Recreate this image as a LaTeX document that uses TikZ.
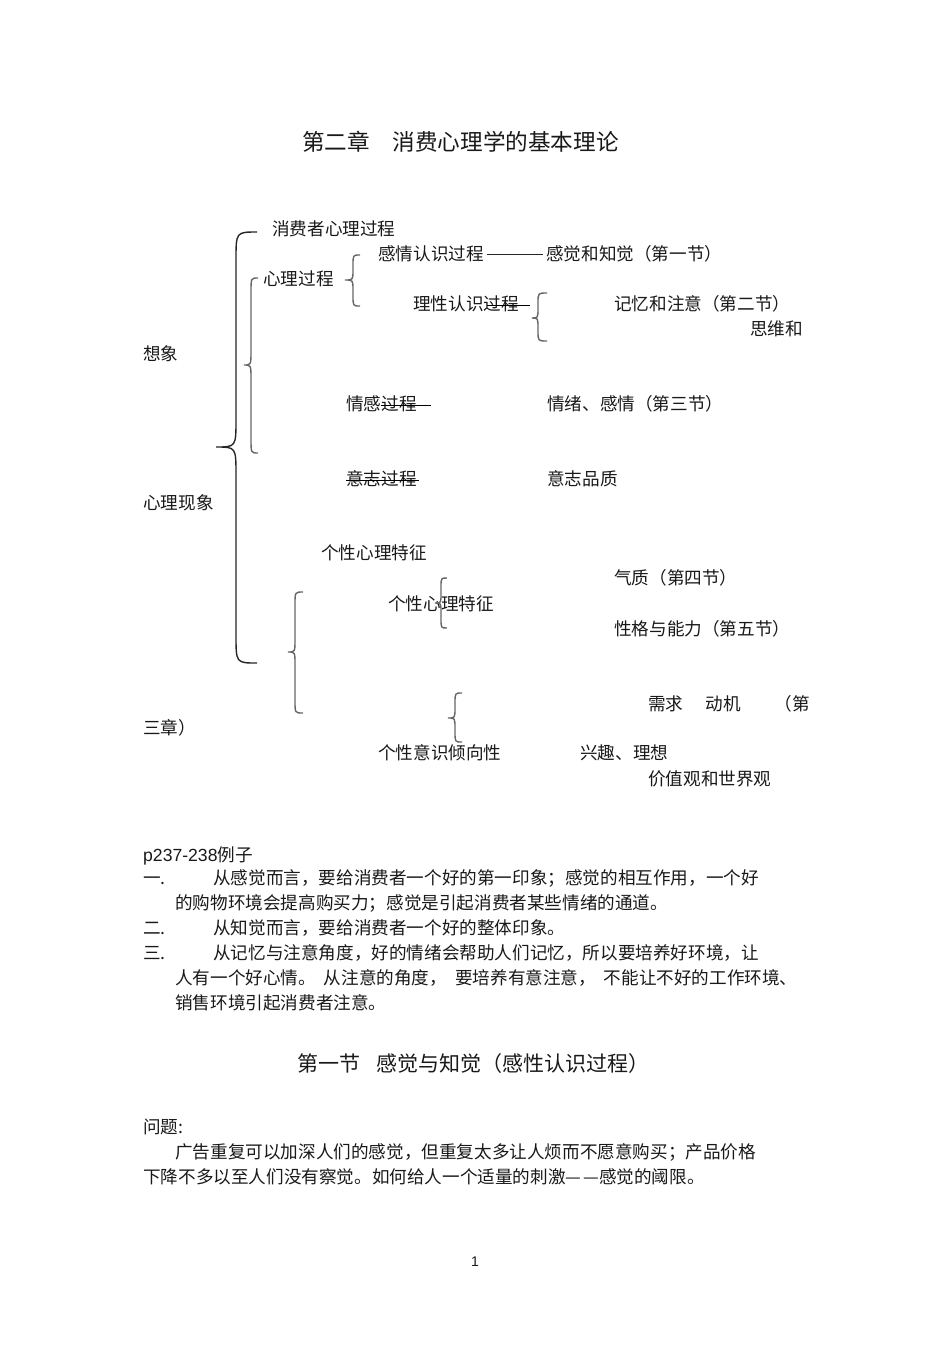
\documentclass[tikz,border=0pt]{standalone}
\usepackage{fontspec}
\setmainfont{Noto Sans CJK SC}
\newfontfamily\arial{Liberation Sans}
\usetikzlibrary{positioning}

\newcommand{\bodyfont}{\fontsize{17.6pt}{21pt}\selectfont}
\newcommand{\headfont}{\fontsize{22.6pt}{26pt}\selectfont}
\newcommand{\secfont}{\fontsize{21pt}{25pt}\selectfont}

% curly brace: style, x of stem, x of ends, x of tip, top, tip, bottom, curl
\newcommand{\curly}[8]{%
  \draw[#1] (#3,#5) .. controls (#2,#5) .. (#2,#5+#8)
    -- (#2,#6-#8) .. controls (#2,#6) .. (#4,#6)
    .. controls (#2,#6) .. (#2,#6+#8)
    -- (#2,#7-#8) .. controls (#2,#7) .. (#3,#7);}

\begin{document}
\begin{tikzpicture}[x=1pt, y=-1pt,
  txt/.style={anchor=west, inner sep=0pt, text=black!90, text height=14.6pt, text depth=1.2pt, font=\bodyfont},
  headtxt/.style={txt, text height=18.8pt, text depth=1.6pt, font=\headfont},
  sectxt/.style={txt, text height=17.4pt, text depth=1.5pt, font=\secfont},
  brcmain/.style={line width=1.4pt, black!85},
  brc/.style={line width=1.4pt, black!60},
  strike/.style={line width=1pt, black},
  dashline/.style={line width=0.7pt, black!85}
]
  \fill[white] (0,0) rectangle (950,1345);
  \useasboundingbox (0,0) rectangle (950,1345);

  % Title
  \node[headtxt] (title) at (302,142) {第二章　消费心理学的基本理论};

  % Upper tree
  \node[txt] (xfzgc) at (272,229) {消费者心理过程};
  \node[txt] (gqrs) at (378,254) {感情认识过程};
  \node[txt] (gjzj) at (546,254) {感觉和知觉（第一节）};
  \node[txt] (xlgc) at (263,279) {心理过程};
  \node[txt] (lxrs) at (413,304) {理性认识过程};
  \node[txt] (jyzy) at (614,304) {记忆和注意（第二节）};
  \node[txt] (swh) at (750,329) {思维和};
  \node[txt] (xx) at (143,354) {想象};
  \node[txt] (qggc) at (346,404) {情感过程};
  \node[txt] (qxgq) at (547,404) {情绪、感情（第三节）};
  \node[txt] (yzgc) at (346,479) {意志过程};
  \node[txt] (yzpz) at (547,479) {意志品质};
  \node[txt] (xlxx) at (143,503) {心理现象};
  \node[txt] (gxxl) at (321,553) {个性心理特征};
  \node[txt] (qz) at (614,578) {气质（第四节）};
  \node[txt] (gxtz) at (388,604) {个性心理特征};
  \node[txt] (xgnl) at (614,629) {性格与能力（第五节）};
  \node[txt] (xq) at (648,704) {需求};
  \node[txt, right=22pt of xq] (dj) {动机};
  \node[txt, right=33pt of dj] (di) {（第};
  \node[txt] (sz) at (143,728) {三章）};
  \node[txt] (gxys) at (378,753) {个性意识倾向性};
  \node[txt] (xqlx) at (580,753) {兴趣、理想};
  \node[txt] (jzg) at (648,779) {价值观和世界观};

  % Dash and strike-outs
  \draw[dashline] ([xshift=3pt]gqrs.east) -- ([xshift=-3pt]gjzj.west);
  \draw[strike] ([xshift=-32pt,yshift=-1.5pt]lxrs.east) -- ([xshift=11pt,yshift=-1.5pt]lxrs.east);
  \draw[strike] ([xshift=-36pt,yshift=-1.5pt]qggc.east) -- ([xshift=14pt,yshift=-1.5pt]qggc.east);
  \draw[strike] ([yshift=-1.5pt]yzgc.west) -- ([xshift=2pt,yshift=-1.5pt]yzgc.east);

  % Braces
  \curly{brcmain}{236}{257}{216}{232}{447}{663}{28}
  \curly{brc}{251}{258}{244}{278}{365}{453}{14}
  \curly{brc}{295}{303}{288}{592}{652}{713}{12}
  \curly{brc}{353}{360}{345}{255}{280}{306}{10}
  \curly{brc}{538}{547}{532}{293}{318}{341}{10}
  \curly{brc}{441}{447}{435}{578}{603}{628}{9}
  \curly{brc}{455}{462}{448}{693}{718}{742}{10}

  % Examples
  \node[txt] (ex) at (143,855) {{\arial p237-238}例子};
  \node[txt] (n1) at (143,878) {一.};
  \node[txt] (l1a) at (213,878) {从感觉而言，要给消费者一个好的第一印象；感觉的相互作用，一个好};
  \node[txt] (l1b) at (175,903) {的购物环境会提高购买力；感觉是引起消费者某些情绪的通道。};
  \node[txt] (n2) at (143,928) {二.};
  \node[txt] (l2a) at (213,928) {从知觉而言，要给消费者一个好的整体印象。};
  \node[txt] (n3) at (143,953) {三.};
  \node[txt] (l3a) at (213,953) {从记忆与注意角度，好的情绪会帮助人们记忆，所以要培养好环境，让};
  \node[txt] (l3b) at (175,978) {人有一个好心情。\hspace{8pt}从注意的角度，\hspace{8pt}要培养有意注意，\hspace{8pt}不能让不好的工作环境、};
  \node[txt] (l3c) at (175,1003) {销售环境引起消费者注意。};

  % Section one
  \node[sectxt] (sec) at (297,1064) {第一节\hspace{16pt}感觉与知觉（感性认识过程）};
  \node[txt] (wt) at (143,1127) {问题:};
  \node[txt] (q1) at (175,1152) {广告重复可以加深人们的感觉，但重复太多让人烦而不愿意购买；产品价格};
  \node[txt] (q2) at (143,1177) {下降不多以至人们没有察觉。如何给人一个适量的刺激—\hspace{2pt}—感觉的阈限。};

  % Page number
  \node[txt, anchor=center, font=\arial\fontsize{14pt}{16pt}\selectfont] (pg) at (475,1260) {1};
\end{tikzpicture}
\end{document}
